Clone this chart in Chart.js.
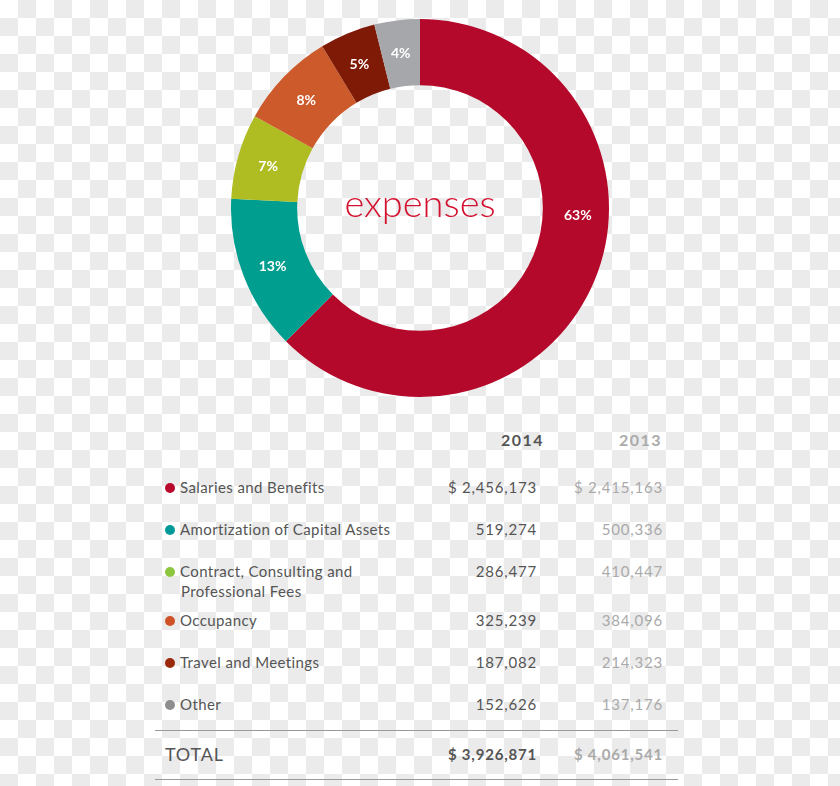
<!DOCTYPE html>
<html>
<head>
<meta charset="utf-8">
<script src="https://cdn.jsdelivr.net/npm/chart.js@4/dist/chart.umd.min.js"></script>
<style>
  html, body {
    margin: 0;
    width: 840px;
    height: 786px;
    overflow: hidden;
  }
  body {
    position: relative;
    background: repeating-conic-gradient(#ebebeb 0 25%, #ffffff 0 50%) 0 0 / 36px 36px;
    font-family: Lato, "Open Sans", sans-serif;
    color: #555;
  }
  #expChart {
    position: absolute;
    left: 231px;
    top: 19px;
  }
  .cell {
    position: absolute;
    white-space: nowrap;
    font-size: 15px;
    line-height: 19px;
    letter-spacing: 0.4px;
  }
  .num { text-align: right; letter-spacing: 0.8px; }
  .old { color: #aaa; }
  .dot {
    position: absolute;
    width: 10px;
    height: 10px;
    border-radius: 50%;
  }
  .rule {
    position: absolute;
    left: 155px;
    width: 523px;
    height: 1px;
    background: #999;
  }
</style>
</head>
<body>
<canvas id="expChart" width="378" height="378"></canvas>
<div id="table"></div>
<script>
const categories = [
  'Salaries and Benefits',
  'Amortization of Capital Assets',
  'Contract, Consulting and\nProfessional Fees',
  'Occupancy',
  'Travel and Meetings',
  'Other'
];
const values2014 = [2456173, 519274, 286477, 325239, 187082, 152626];
const values2013 = [2415163, 500336, 410447, 384096, 214323, 137176];
const yearLabels = ['2014', '2013'];
const centerTitle = 'expenses';
const totalLabel = 'TOTAL';

const sliceColors = ['#b5092b', '#009e8f', '#afbd22', '#cd5a2b', '#7f1a06', '#a6a7ab'];
const dotColors = ['#b8092c', '#00999a', '#8cc63f', '#cf5227', '#9a2a0b', '#8e8e8e'];

const sum = arr => arr.reduce((a, b) => a + b, 0);
const fmt = v => v.toLocaleString('en-US');

// percent labels + center word
const doughnutText = {
  id: 'doughnutText',
  afterDatasetsDraw(chart) {
    const ctx = chart.ctx;
    const meta = chart.getDatasetMeta(0);
    const data = chart.data.datasets[0].data;
    const total = sum(data);
    ctx.save();
    ctx.fillStyle = '#ffffff';
    ctx.font = 'bold 14px Lato, sans-serif';
    ctx.textAlign = 'center';
    ctx.textBaseline = 'middle';
    meta.data.forEach((arc, i) => {
      const { x, y, startAngle, endAngle, innerRadius, outerRadius } = arc.getProps(['x', 'y', 'startAngle', 'endAngle', 'innerRadius', 'outerRadius']);
      let a = (startAngle + endAngle) / 2;
      // big slice: put the label at 3 o'clock like the original
      if (endAngle - startAngle > Math.PI && startAngle < 0 && endAngle > 0) a = 0.035;
      const r = (innerRadius + outerRadius) / 2 + 2;
      ctx.fillText(Math.round(data[i] / total * 100) + '%', x + Math.cos(a) * r, y + Math.sin(a) * r + 2);
    });
    const first = meta.data[0];
    ctx.fillStyle = '#d3112f';
    ctx.font = '300 38px Lato, sans-serif';
    ctx.fillText(centerTitle, first.x, first.y - 3);
    ctx.restore();
  }
};

new Chart(document.getElementById('expChart').getContext('2d'), {
  type: 'doughnut',
  data: {
    labels: categories,
    datasets: [{
      data: values2014,
      backgroundColor: sliceColors,
      borderWidth: 0
    }]
  },
  options: {
    responsive: false,
    animation: false,
    events: [],
    cutout: '65%',
    plugins: { legend: { display: false }, tooltip: { enabled: false } }
  },
  plugins: [doughnutText]
});

// table below the chart
const table = document.getElementById('table');
function addCell(text, cls, style) {
  const d = document.createElement('div');
  d.className = 'cell ' + cls;
  d.textContent = text;
  Object.assign(d.style, style);
  table.appendChild(d);
  return d;
}
const rowCenters = [488, 530, 572, 621, 663, 705];

addCell(yearLabels[0], 'num', { right: '296px', top: '430px', fontWeight: 'bold', fontSize: '16px', letterSpacing: '1.5px' });
addCell(yearLabels[1], 'num old', { right: '178px', top: '430px', fontWeight: 'bold', fontSize: '16px', letterSpacing: '1.5px' });

categories.forEach((name, i) => {
  const y = rowCenters[i];
  const dot = document.createElement('div');
  dot.className = 'dot';
  dot.style.left = '165px';
  dot.style.top = (y - 5) + 'px';
  dot.style.background = dotColors[i];
  table.appendChild(dot);
  name.split('\n').forEach((line, j) => {
    addCell(line, '', { left: (j ? 181 : 180) + 'px', top: (y - 10 + j * 19.5) + 'px' });
  });
  const pre = i === 0 ? '$ ' : '';
  addCell(pre + fmt(values2014[i]), 'num', { right: '303px', top: (y - 10) + 'px' });
  addCell(pre + fmt(values2013[i]), 'num old', { right: '177px', top: (y - 10) + 'px' });
});

const rule1 = document.createElement('div');
rule1.className = 'rule';
rule1.style.top = '730px';
table.appendChild(rule1);
const rule2 = document.createElement('div');
rule2.className = 'rule';
rule2.style.top = '779px';
table.appendChild(rule2);

addCell(totalLabel, '', { left: '165px', top: '744px', fontSize: '18px', lineHeight: '20px', letterSpacing: '0.8px' });
addCell('$ ' + fmt(sum(values2014)), 'num', { right: '303px', top: '744px', fontWeight: 'bold', fontSize: '15px', lineHeight: '20px' });
addCell('$ ' + fmt(sum(values2013)), 'num old', { right: '177px', top: '744px', fontWeight: 'bold', fontSize: '15px', lineHeight: '20px' });
</script>
</body>
</html>
